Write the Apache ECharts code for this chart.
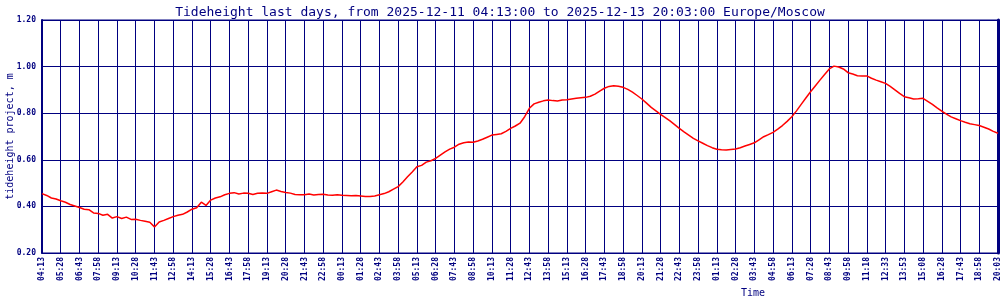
<!DOCTYPE html>
<html>
<head>
<meta charset="utf-8">
<script src="https://cdn.jsdelivr.net/npm/echarts@6/dist/echarts.min.js"></script>
<style>html,body{margin:0;padding:0;background:#fff}#c{width:1000px;height:300px}</style>
</head>
<body>
<div id="c"></div>
<script>
const titleText = 'Tideheight last days, from 2025-12-11 04:13:00 to 2025-12-13 20:03:00 Europe/Moscow';
const tickLabels = ['04:13','05:28','06:43','07:58','09:13','10:28','11:43','12:58','14:13','15:28','16:43','17:58','19:13','20:28','21:43','22:58',
  '00:13','01:28','02:43','03:58','05:13','06:28','07:43','08:58','10:13','11:28','12:43','13:58','15:13','16:28','17:43','18:58','20:13','21:28','22:43','23:58',
  '01:13','02:28','03:43','04:58','06:13','07:28','08:43','09:58','11:18','12:33','13:53','15:08','16:28','17:43','18:58','20:03'];
const samplesPerTick = 4;
// tide height (m), 4 samples per tick interval
const heights = [
  0.455,0.447,0.436,0.432, 0.424,0.418,0.408,0.402, 0.395,0.388,0.386,0.372,
  0.370,0.362,0.366,0.350, 0.356,0.348,0.354,0.344, 0.345,0.340,0.336,0.332,
  0.312,0.333,0.340,0.348, 0.356,0.362,0.366,0.376, 0.388,0.394,0.418,0.404,
  0.427,0.436,0.441,0.450, 0.456,0.459,0.453,0.457, 0.456,0.451,0.456,0.458,
  0.456,0.463,0.470,0.464, 0.460,0.457,0.451,0.450, 0.450,0.453,0.449,0.451,
  0.452,0.449,0.448,0.450, 0.448,0.447,0.446,0.447, 0.445,0.443,0.442,0.445,
  0.450,0.455,0.463,0.474, 0.485,0.505,0.527,0.548, 0.570,0.576,0.590,0.596,
  0.606,0.620,0.634,0.646, 0.654,0.667,0.673,0.676, 0.675,0.681,0.688,0.697,
  0.706,0.709,0.712,0.722, 0.735,0.745,0.757,0.785, 0.821,0.840,0.847,0.853,
  0.857,0.854,0.852,0.857, 0.858,0.861,0.864,0.866, 0.868,0.873,0.882,0.895,
  0.907,0.915,0.918,0.916, 0.911,0.902,0.890,0.876, 0.861,0.843,0.825,0.810,
  0.795,0.781,0.767,0.751, 0.735,0.720,0.706,0.692, 0.681,0.671,0.661,0.652,
  0.645,0.643,0.642,0.644, 0.646,0.652,0.659,0.666, 0.673,0.686,0.699,0.708,
  0.718,0.732,0.747,0.765, 0.785,0.810,0.838,0.865, 0.892,0.917,0.942,0.966,
  0.990,1.002,0.998,0.990, 0.974,0.968,0.961,0.960, 0.960,0.950,0.942,0.935,
  0.928,0.915,0.900,0.885, 0.871,0.866,0.861,0.862, 0.864,0.851,0.838,0.823,
  0.809,0.796,0.784,0.776, 0.768,0.761,0.755,0.751, 0.747,0.740,0.732,0.722,
  0.714
];
const yTicks = { min: 0.2, max: 1.2, step: 0.2 };

const navy = '#000080';
const mono = '"DejaVu Sans Mono", monospace';
const cats = heights.map((_, i) => i);

const chart = echarts.init(document.getElementById('c'), null, { renderer: 'canvas' });
chart.setOption({
  animation: false,
  backgroundColor: '#ffffff',
  title: {
    text: titleText, left: 'center', top: 1,
    textStyle: { fontFamily: mono, fontSize: 13, fontWeight: 'normal', color: navy }
  },
  grid: { left: 42, right: 2, top: 20, bottom: 47, show: true, borderColor: navy, borderWidth: 1,
    outerBoundsMode: 'none', containLabel: false },
  xAxis: {
    type: 'category', data: cats, boundaryGap: false,
    axisLine: { lineStyle: { color: navy, width: 1 } },
    axisTick: { show: false },
    axisLabel: {
      interval: samplesPerTick - 1, rotate: 90, margin: 4,
      fontFamily: mono, fontSize: 8, fontWeight: 'bold', color: navy,
      formatter: (v) => tickLabels[Math.round(v / samplesPerTick)]
    },
    splitLine: { show: true, interval: samplesPerTick - 1, lineStyle: { color: navy, width: 1 } }
  },
  yAxis: [{
    type: 'value', min: yTicks.min, max: yTicks.max, interval: yTicks.step,
    name: 'tideheight project, m', nameLocation: 'middle', nameGap: 32, nameMoveOverlap: false,
    nameTextStyle: { fontFamily: mono, fontSize: 10, color: navy, verticalAlign: 'middle' },
    axisLine: { show: true, lineStyle: { color: navy, width: 2 } },
    axisTick: { show: false },
    axisLabel: { fontFamily: mono, fontSize: 8, fontWeight: 'bold', color: navy, margin: 6,
      formatter: (v) => v.toFixed(2) },
    splitLine: { show: true, lineStyle: { color: navy, width: 1 } }
  }, {
    type: 'value', position: 'right', min: yTicks.min, max: yTicks.max, interval: yTicks.step,
    axisLine: { show: true, lineStyle: { color: navy, width: 3 } },
    axisTick: { show: false }, axisLabel: { show: false }, splitLine: { show: false }
  }],
  graphic: [{
    type: 'text', left: 741, top: 288,
    style: { text: 'Time', font: '10px "DejaVu Sans Mono", monospace', fill: navy }
  }],
  series: [{
    type: 'line', data: heights, symbol: 'none', yAxisIndex: 0,
    lineStyle: { color: '#ff0000', width: 1.5 }
  }]
});
</script>
</body>
</html>
